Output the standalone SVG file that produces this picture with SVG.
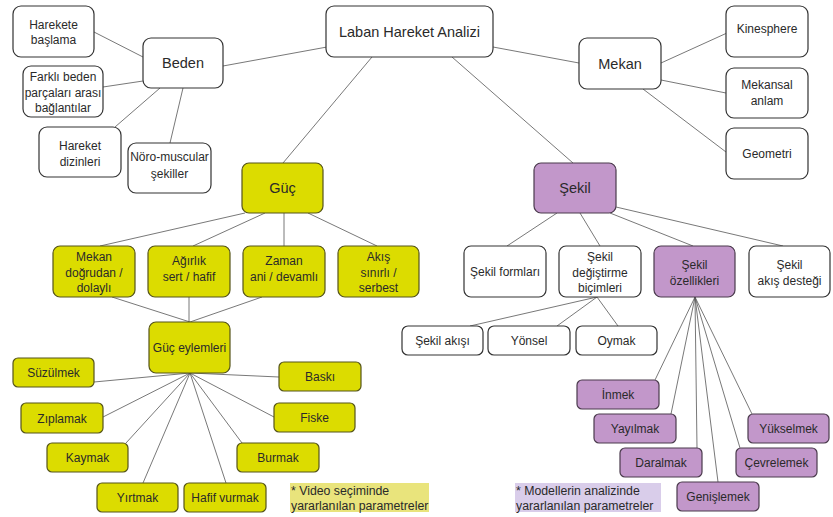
<svg xmlns="http://www.w3.org/2000/svg" width="833" height="517" viewBox="0 0 833 517">
<style>
.w{fill:#fff;stroke:#333;stroke-width:1.2}
.y{fill:#dcdc00;stroke:#55541a;stroke-width:1.2}
.p{fill:#c297ca;stroke:#4a3a4c;stroke-width:1.2}
text{font-family:"Liberation Sans",Arial,sans-serif;font-size:12px;fill:#2a2a2a;text-anchor:middle}
.b{font-size:14.5px}
.n{text-anchor:start;font-size:12.3px}
#connectors line{stroke:#555;stroke-width:0.8}
</style>
<rect width="833" height="517" fill="#fff"/>
<g id="connectors">
<line x1="327" y1="47" x2="223" y2="66"/>
<line x1="493" y1="47" x2="579" y2="63"/>
<line x1="372" y1="57" x2="283" y2="163"/>
<line x1="452" y1="57" x2="573" y2="163"/>
<line x1="143" y1="57" x2="94" y2="32"/>
<line x1="143" y1="81" x2="103" y2="87"/>
<line x1="160" y1="88" x2="115" y2="127"/>
<line x1="183" y1="88" x2="170" y2="143"/>
<line x1="661" y1="63" x2="727" y2="33"/>
<line x1="661" y1="80" x2="726" y2="93"/>
<line x1="643" y1="89" x2="726" y2="152"/>
<line x1="245" y1="213" x2="100" y2="246"/>
<line x1="265" y1="213" x2="193" y2="246"/>
<line x1="284" y1="213" x2="284" y2="246"/>
<line x1="308" y1="213" x2="377" y2="246"/>
<line x1="112" y1="297" x2="190" y2="322"/>
<line x1="189" y1="297" x2="189" y2="322"/>
<line x1="262" y1="297" x2="190" y2="322"/>
<line x1="190" y1="373" x2="94" y2="382"/>
<line x1="190" y1="373" x2="279" y2="377"/>
<line x1="190" y1="373" x2="103" y2="417"/>
<line x1="190" y1="373" x2="274" y2="417"/>
<line x1="190" y1="373" x2="126" y2="443"/>
<line x1="190" y1="373" x2="242" y2="443"/>
<line x1="190" y1="373" x2="143" y2="483"/>
<line x1="190" y1="373" x2="226" y2="483"/>
<line x1="557" y1="213" x2="507" y2="246"/>
<line x1="580" y1="213" x2="600" y2="246"/>
<line x1="610" y1="213" x2="693" y2="246"/>
<line x1="616" y1="207" x2="783" y2="246"/>
<line x1="597" y1="297" x2="470" y2="326"/>
<line x1="597" y1="297" x2="557" y2="326"/>
<line x1="597" y1="297" x2="618" y2="326"/>
<line x1="695" y1="297" x2="655" y2="380"/>
<line x1="695" y1="297" x2="671" y2="414"/>
<line x1="695" y1="297" x2="697" y2="448"/>
<line x1="695" y1="297" x2="718" y2="482"/>
<line x1="695" y1="297" x2="740" y2="448"/>
<line x1="695" y1="297" x2="752" y2="414"/>
</g>
<g id="laban"><rect class="w" x="326" y="6" width="167" height="51" rx="8"/><text class="b" x="409.5" y="37">Laban Hareket Analizi</text></g>
<g id="beden"><rect class="w" x="143" y="38" width="80" height="50" rx="8"/><text class="b" x="183" y="68">Beden</text></g>
<g id="harekete"><rect class="w" x="13" y="6" width="81" height="51" rx="8"/><text x="53.5" y="29">Harekete</text><text x="53.5" y="44">başlama</text></g>
<g id="farkli"><rect class="w" x="23" y="66" width="80" height="51" rx="8"/><text x="63" y="81">Farklı beden</text><text x="63" y="97">parçaları arası</text><text x="63" y="112">bağlantılar</text></g>
<g id="dizin"><rect class="w" x="39" y="127" width="82" height="50" rx="8"/><text x="80" y="150">Hareket</text><text x="80" y="165.5">dizinleri</text></g>
<g id="noro"><rect class="w" x="128" y="143" width="83" height="50" rx="8"/><text x="169.5" y="161">Nöro-muscular</text><text x="169.5" y="178">şekiller</text></g>
<g id="mekan"><rect class="w" x="579" y="38" width="82" height="51" rx="8"/><text class="b" x="620" y="69">Mekan</text></g>
<g id="kinesphere"><rect class="w" x="726" y="6" width="82" height="51" rx="8"/><text x="767" y="33">Kinesphere</text></g>
<g id="mekansal"><rect class="w" x="726" y="68" width="82" height="50" rx="8"/><text x="767" y="89">Mekansal</text><text x="767" y="104.5">anlam</text></g>
<g id="geometri"><rect class="w" x="726" y="128" width="82" height="51" rx="8"/><text x="767" y="158">Geometri</text></g>
<g id="guc"><rect class="y" x="242" y="163" width="81" height="50" rx="7"/><text class="b" x="282.5" y="193">Güç</text></g>
<g id="sekil"><rect class="p" x="534" y="163" width="82" height="50" rx="7"/><text class="b" x="575" y="193">Şekil</text></g>
<g id="mekan-dog"><rect class="y" x="53" y="246" width="82" height="51" rx="7"/><text x="94" y="261">Mekan</text><text x="94" y="277">doğrudan /</text><text x="94" y="292">dolaylı</text></g>
<g id="agirlik"><rect class="y" x="148" y="246" width="82" height="51" rx="7"/><text x="189" y="265">Ağırlık</text><text x="189" y="280.5">sert / hafif</text></g>
<g id="zaman"><rect class="y" x="243" y="246" width="82" height="51" rx="7"/><text x="284" y="265">Zaman</text><text x="284" y="280.5">ani / devamlı</text></g>
<g id="akis"><rect class="y" x="338" y="246" width="81" height="51" rx="7"/><text x="378.5" y="261">Akış</text><text x="378.5" y="277">sınırlı /</text><text x="378.5" y="292">serbest</text></g>
<g id="formlari"><rect class="w" x="464" y="246" width="82" height="51" rx="7"/><text x="505" y="276">Şekil formları</text></g>
<g id="degistirme"><rect class="w" x="559" y="246" width="82" height="51" rx="7"/><text x="600" y="261">Şekil</text><text x="600" y="277">değiştirme</text><text x="600" y="292">biçimleri</text></g>
<g id="ozellikleri"><rect class="p" x="654" y="246" width="81" height="51" rx="7"/><text x="694.5" y="269">Şekil</text><text x="694.5" y="284.5">özellikleri</text></g>
<g id="akis-destegi"><rect class="w" x="749" y="246" width="81" height="51" rx="7"/><text x="789.5" y="269">Şekil</text><text x="789.5" y="284.5">akış desteği</text></g>
<g id="guc-eylemleri"><rect class="y" x="149" y="322" width="81" height="51" rx="7"/><text x="189.5" y="352">Güç eylemleri</text></g>
<g id="sekil-akisi"><rect class="w" x="402" y="326" width="81" height="29" rx="6"/><text x="442.5" y="345">Şekil akışı</text></g>
<g id="yonsel"><rect class="w" x="488" y="326" width="82" height="29" rx="6"/><text x="529" y="345">Yönsel</text></g>
<g id="oymak"><rect class="w" x="576" y="326" width="81" height="29" rx="6"/><text x="616.5" y="345">Oymak</text></g>
<g id="suzulmek"><rect class="y" x="13" y="358" width="81" height="29" rx="5"/><text x="53.5" y="377">Süzülmek</text></g>
<g id="baski"><rect class="y" x="279" y="362" width="82" height="29" rx="5"/><text x="320" y="381">Baskı</text></g>
<g id="ziplamak"><rect class="y" x="21" y="403" width="82" height="30" rx="5"/><text x="62" y="422.5">Zıplamak</text></g>
<g id="fiske"><rect class="y" x="274" y="403" width="81" height="29" rx="5"/><text x="314.5" y="422">Fiske</text></g>
<g id="kaymak"><rect class="y" x="47" y="443" width="81" height="29" rx="5"/><text x="87.5" y="462">Kaymak</text></g>
<g id="burmak"><rect class="y" x="237" y="443" width="82" height="29" rx="5"/><text x="278" y="462">Burmak</text></g>
<g id="yirtmak"><rect class="y" x="97" y="483" width="81" height="29" rx="5"/><text x="137.5" y="502">Yırtmak</text></g>
<g id="hafif"><rect class="y" x="184" y="483" width="82" height="29" rx="5"/><text x="225" y="502">Hafif vurmak</text></g>
<g id="inmek"><rect class="p" x="577" y="380" width="82" height="29" rx="5"/><text x="618" y="399">İnmek</text></g>
<g id="yayilmak"><rect class="p" x="594" y="414" width="82" height="29" rx="5"/><text x="635" y="433">Yayılmak</text></g>
<g id="daralmak"><rect class="p" x="620" y="448" width="82" height="29" rx="5"/><text x="661" y="467">Daralmak</text></g>
<g id="genislemek"><rect class="p" x="677" y="482" width="82" height="29" rx="5"/><text x="718" y="501">Genişlemek</text></g>
<g id="yukselmek"><rect class="p" x="748" y="414" width="81" height="29" rx="5"/><text x="788.5" y="433">Yükselmek</text></g>
<g id="cevrelemek"><rect class="p" x="736" y="448" width="81" height="29" rx="5"/><text x="776.5" y="467">Çevrelemek</text></g>
<g id="note-video"><rect x="290" y="483" width="139" height="29" fill="#e9e47c"/><text class="n" x="291" y="494.5">* Video seçiminde</text><text class="n" x="291" y="510">yararlanılan parametreler</text></g>
<g id="note-model"><rect x="515" y="483" width="146" height="29" fill="#d9cdea"/><text class="n" x="516" y="494.5">* Modellerin analizinde</text><text class="n" x="516" y="510">yararlanılan parametreler</text></g>
</svg>
